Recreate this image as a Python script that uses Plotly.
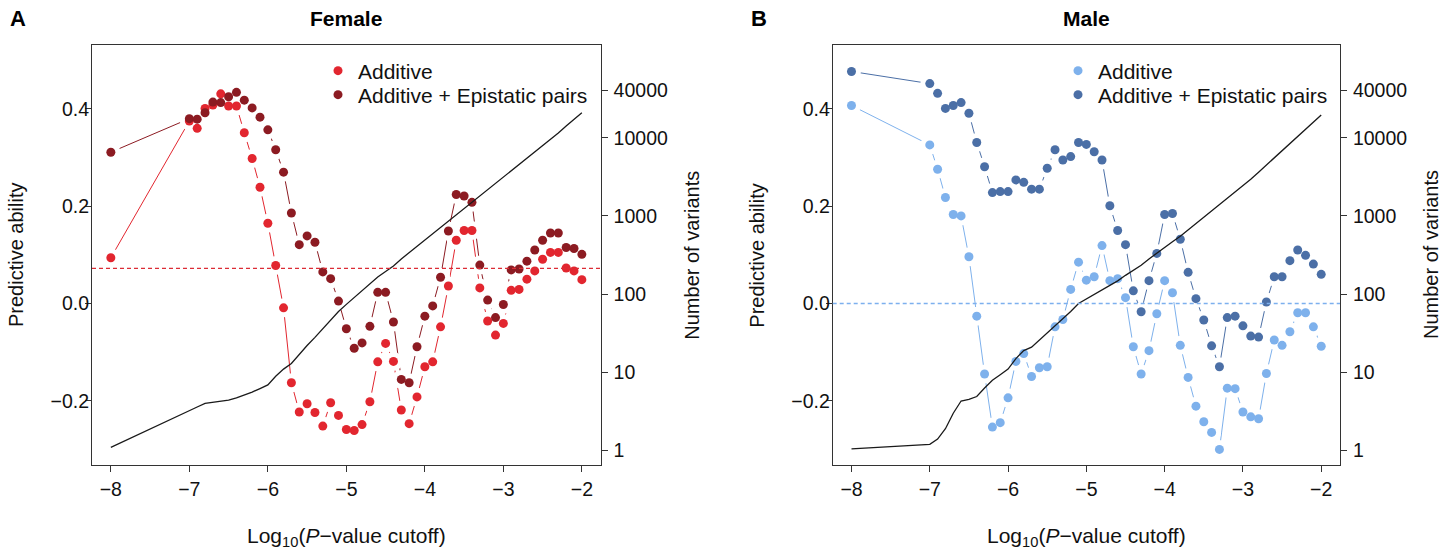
import plotly.graph_objects as go

# ---------------- data ----------------
cutoffs = [-8, -7.0, -6.9, -6.8, -6.7, -6.6, -6.5, -6.4, -6.3, -6.2, -6.1,
           -6.0, -5.9, -5.8, -5.7, -5.6, -5.5, -5.4, -5.3, -5.2, -5.1,
           -5.0, -4.9, -4.8, -4.7, -4.6, -4.5, -4.4, -4.3, -4.2, -4.1,
           -4.0, -3.9, -3.8, -3.7, -3.6, -3.5, -3.4, -3.3, -3.2, -3.1,
           -3.0, -2.9, -2.8, -2.7, -2.6, -2.5, -2.4, -2.3, -2.2, -2.1, -2.0]

female_add = [0.094, 0.375, 0.360, 0.401, 0.408, 0.431, 0.406, 0.406, 0.351, 0.298, 0.239,
              0.165, 0.078, -0.009, -0.163, -0.223, -0.206, -0.224, -0.252, -0.204, -0.230,
              -0.259, -0.261, -0.249, -0.202, -0.120, -0.082, -0.119, -0.219, -0.247, -0.192,
              -0.130, -0.120, -0.048, 0.036, 0.130, 0.150, 0.150, 0.032, -0.036, -0.065,
              -0.041, 0.027, 0.029, 0.050, 0.067, 0.091, 0.105, 0.105, 0.073, 0.067, 0.049]
female_epi = [0.311, 0.380, 0.379, 0.392, 0.414, 0.413, 0.425, 0.434, 0.418, 0.402, 0.383,
              0.357, 0.316, 0.270, 0.186, 0.121, 0.139, 0.126, 0.065, 0.051, 0.005,
              -0.052, -0.092, -0.081, -0.047, 0.023, 0.023, -0.038, -0.156, -0.163, -0.089,
              -0.026, -0.005, 0.054, 0.149, 0.224, 0.221, 0.208, 0.079, 0.007, -0.029,
              -0.002, 0.069, 0.071, 0.087, 0.110, 0.130, 0.145, 0.145, 0.115, 0.113, 0.101]
female_nvar = [1.1, 3.3, 3.6, 4.0, 4.1, 4.2, 4.4, 4.7, 5.1, 5.6, 6.2,
               6.9, 8.9, 11, 13, 17, 22, 28, 36, 47, 60,
               74, 91, 112, 138, 166, 195, 229, 282, 339, 407,
               490, 589, 708, 851, 1023, 1230, 1479, 1778, 2138, 2570,
               3090, 3715, 4467, 5370, 6457, 7762, 9333, 11482, 14125, 16982, 20893]
female_baseline = 0.072

male_add = [0.407, 0.326, 0.276, 0.218, 0.183, 0.180, 0.096, -0.026, -0.145, -0.254, -0.245,
            -0.194, -0.119, -0.103, -0.150, -0.132, -0.130, -0.048, -0.033, 0.029, 0.085,
            0.048, 0.055, 0.119, 0.047, 0.051, 0.012, -0.089, -0.145, -0.097, -0.021,
            0.047, 0.022, -0.086, -0.152, -0.211, -0.243, -0.265, -0.300, -0.174, -0.175,
            -0.223, -0.233, -0.237, -0.144, -0.075, -0.086, -0.058, -0.019, -0.019, -0.048, -0.088]
male_epi = [0.477, 0.452, 0.432, 0.401, 0.407, 0.413, 0.391, 0.331, 0.281, 0.228, 0.230,
            0.230, 0.254, 0.249, 0.235, 0.235, 0.278, 0.316, 0.295, 0.302, 0.331,
            0.327, 0.312, 0.295, 0.201, 0.150, 0.121, 0.026, -0.017, 0.047, 0.103,
            0.183, 0.185, 0.132, 0.064, 0.010, -0.034, -0.087, -0.130, -0.029, -0.026,
            -0.046, -0.067, -0.069, 0.003, 0.055, 0.055, 0.088, 0.110, 0.099, 0.081, 0.060]
male_nvar = [1.05, 1.2, 1.4, 1.9, 3.0, 4.3, 4.5, 4.9, 6.3, 7.9, 9.3,
             11, 15, 19, 21, 26, 32, 39, 48, 60, 76,
             87, 100, 115, 129, 148, 174, 200, 234, 282, 331,
             398, 468, 550, 661, 794, 955, 1148, 1380, 1660, 1995,
             2455, 2951, 3631, 4467, 5495, 6761, 8318, 10233, 12589, 15488, 19498]
male_baseline = 0.0

x_ticks = [-8, -7, -6, -5, -4, -3, -2]
x_ticktext = ["\u22128", "\u22127", "\u22126", "\u22125", "\u22124", "\u22123", "\u22122"]
y_ticks = [-0.2, 0.0, 0.2, 0.4]
y_ticktext = ["\u22120.2", "0.0", "0.2", "0.4"]
n_ticks = [1, 10, 100, 1000, 10000, 40000]
n_ticktext = ["1", "10", "100", "1000", "10000", "40000"]

# ---------------- styling ----------------
W, H = 1455, 552
FONT = "Liberation Sans, Arial, Helvetica, sans-serif"
FS_TICK = 19.5
FS_LEG = 21
FS_AXT = 20
FS_TITLE = 21
AXC = "#333333"
TXT = "#111111"

panels = [
    dict(name="Female", letter="A", add=female_add, epi=female_epi, nvar=female_nvar,
         base=female_baseline, c_add="#E2262F", c_epi="#8C1B22", c_base="#DC2C36",
         px0=92, px1=600.7, xa="x", ya="y", ya2="y2", legs=("legend", "legend2")),
    dict(name="Male", letter="B", add=male_add, epi=male_epi, nvar=male_nvar,
         base=male_baseline, c_add="#7EB1EC", c_epi="#4B6FA6", c_base="#7DB0EE",
         px0=832.7, px1=1340, xa="x2", ya="y3", ya2="y4", legs=("legend3", "legend4")),
]
py_top, py_bot = 44.7, 465.0

fig = go.Figure()

for p in panels:
    # connecting lines (solid, thin)
    fig.add_trace(go.Scatter(x=cutoffs, y=p["add"], mode="lines", xaxis=p["xa"], yaxis=p["ya"],
                             line=dict(color=p["c_add"], width=1), showlegend=False, hoverinfo="skip"))
    fig.add_trace(go.Scatter(x=cutoffs, y=p["epi"], mode="lines", xaxis=p["xa"], yaxis=p["ya"],
                             line=dict(color=p["c_epi"], width=1), showlegend=False, hoverinfo="skip"))
    # white halos to mimic R type="b" gaps around points
    for ser in ("add", "epi"):
        fig.add_trace(go.Scatter(x=cutoffs, y=p[ser], mode="markers", xaxis=p["xa"], yaxis=p["ya"],
                                 marker=dict(color="white", size=19, line=dict(width=0)),
                                 showlegend=False, hoverinfo="skip"))
    # points
    fig.add_trace(go.Scatter(x=cutoffs, y=p["add"], mode="markers", xaxis=p["xa"], yaxis=p["ya"],
                             marker=dict(color=p["c_add"], size=9, line=dict(width=0)),
                             name="Additive", legend=p["legs"][0]))
    fig.add_trace(go.Scatter(x=cutoffs, y=p["epi"], mode="markers", xaxis=p["xa"], yaxis=p["ya"],
                             marker=dict(color=p["c_epi"], size=9, line=dict(width=0)),
                             name="Additive + Epistatic pairs", legend=p["legs"][1]))
    # number of variants (right axis, log)
    fig.add_trace(go.Scatter(x=cutoffs, y=p["nvar"], mode="lines", xaxis=p["xa"], yaxis=p["ya2"],
                             line=dict(color="#1a1a1a", width=1.3), showlegend=False))
    # baseline
    fig.add_shape(type="line", xref=p["xa"] + " domain", yref=p["ya"], x0=0, x1=1,
                  y0=p["base"], y1=p["base"], layer="above",
                  line=dict(color=p["c_base"], width=1.3, dash="4px,3px"))

common_axis = dict(showline=True, linecolor=AXC, linewidth=1, ticks="outside", ticklen=6,
                   tickcolor=AXC, tickwidth=1, showgrid=False, zeroline=False,
                   tickfont=dict(family=FONT, size=FS_TICK, color=TXT), automargin=False)

def dom_x(p):
    return [p["px0"] / W, p["px1"] / W]

ydom = [1 - py_bot / H, 1 - py_top / H]

def leg(px, py):
    return dict(x=px / W, y=1 - py / H, xanchor="left", yanchor="middle",
                bgcolor="rgba(0,0,0,0)", font=dict(family=FONT, size=FS_LEG, color=TXT),
                itemclick=False, itemdoubleclick=False)

xcommon = dict(range=[-8.24, -1.76], tickvals=x_ticks, ticktext=x_ticktext, mirror=True,
               ticklabelstandoff=1, **common_axis)
ycommon = dict(range=[-0.332, 0.532], tickvals=y_ticks, ticktext=y_ticktext, mirror=True,
               ticklabelstandoff=-8, **common_axis)
y2common = dict(side="right", type="log", range=[-0.185, 5.19], tickvals=n_ticks,
                ticktext=n_ticktext, ticklabelstandoff=2, **common_axis)

layout = dict(
    width=W, height=H, margin=dict(l=0, r=0, t=0, b=0),
    paper_bgcolor="white", plot_bgcolor="white",
    font=dict(family=FONT, size=FS_TICK, color=TXT),
    xaxis=dict(domain=dom_x(panels[0]), anchor="y", **xcommon),
    yaxis=dict(domain=ydom, anchor="x", **ycommon),
    yaxis2=dict(overlaying="y", anchor="x", **y2common),
    xaxis2=dict(domain=dom_x(panels[1]), anchor="y3", **xcommon),
    yaxis3=dict(domain=ydom, anchor="x2", **ycommon),
    yaxis4=dict(overlaying="y3", anchor="x2", **y2common),
    legend=leg(318, 71), legend2=leg(318, 95),
    legend3=leg(1058, 71), legend4=leg(1058, 95),
    showlegend=True,
)
fig.update_layout(**layout)

ann = []
for p in panels:
    cx = (p["px0"] + p["px1"]) / 2
    ann.append(dict(text="<b>" + p["letter"] + "</b>", x=(p["px0"] - 74) / W, y=1 - 18 / H,
                    xref="paper", yref="paper", showarrow=False, xanchor="center", yanchor="middle",
                    font=dict(family=FONT, size=22, color="#000")))
    ann.append(dict(text="<b>" + p["name"] + "</b>", x=cx / W, y=1 - 18 / H,
                    xref="paper", yref="paper", showarrow=False, xanchor="center", yanchor="middle",
                    font=dict(family=FONT, size=FS_TITLE, color="#000")))
    ann.append(dict(text="Predictive ability", x=(p["px0"] - 76) / W, y=1 - 255 / H,
                    xref="paper", yref="paper", showarrow=False, textangle=-90,
                    xanchor="center", yanchor="middle", font=dict(family=FONT, size=FS_AXT, color=TXT)))
    ann.append(dict(text="Number of variants", x=(p["px1"] + 91) / W, y=1 - 255 / H,
                    xref="paper", yref="paper", showarrow=False, textangle=-90,
                    xanchor="center", yanchor="middle", font=dict(family=FONT, size=FS_AXT, color=TXT)))
    ann.append(dict(text="Log<sub>10</sub>(<i>P</i>\u2212value cutoff)", x=cx / W, y=1 - 537 / H,
                    xref="paper", yref="paper", showarrow=False,
                    xanchor="center", yanchor="middle", font=dict(family=FONT, size=FS_TITLE, color=TXT)))
fig.update_layout(annotations=ann)

fig.write_html("out.html", config={"displayModeBar": False},
               post_script="document.body.style.margin='0';document.body.style.overflow='hidden';")
